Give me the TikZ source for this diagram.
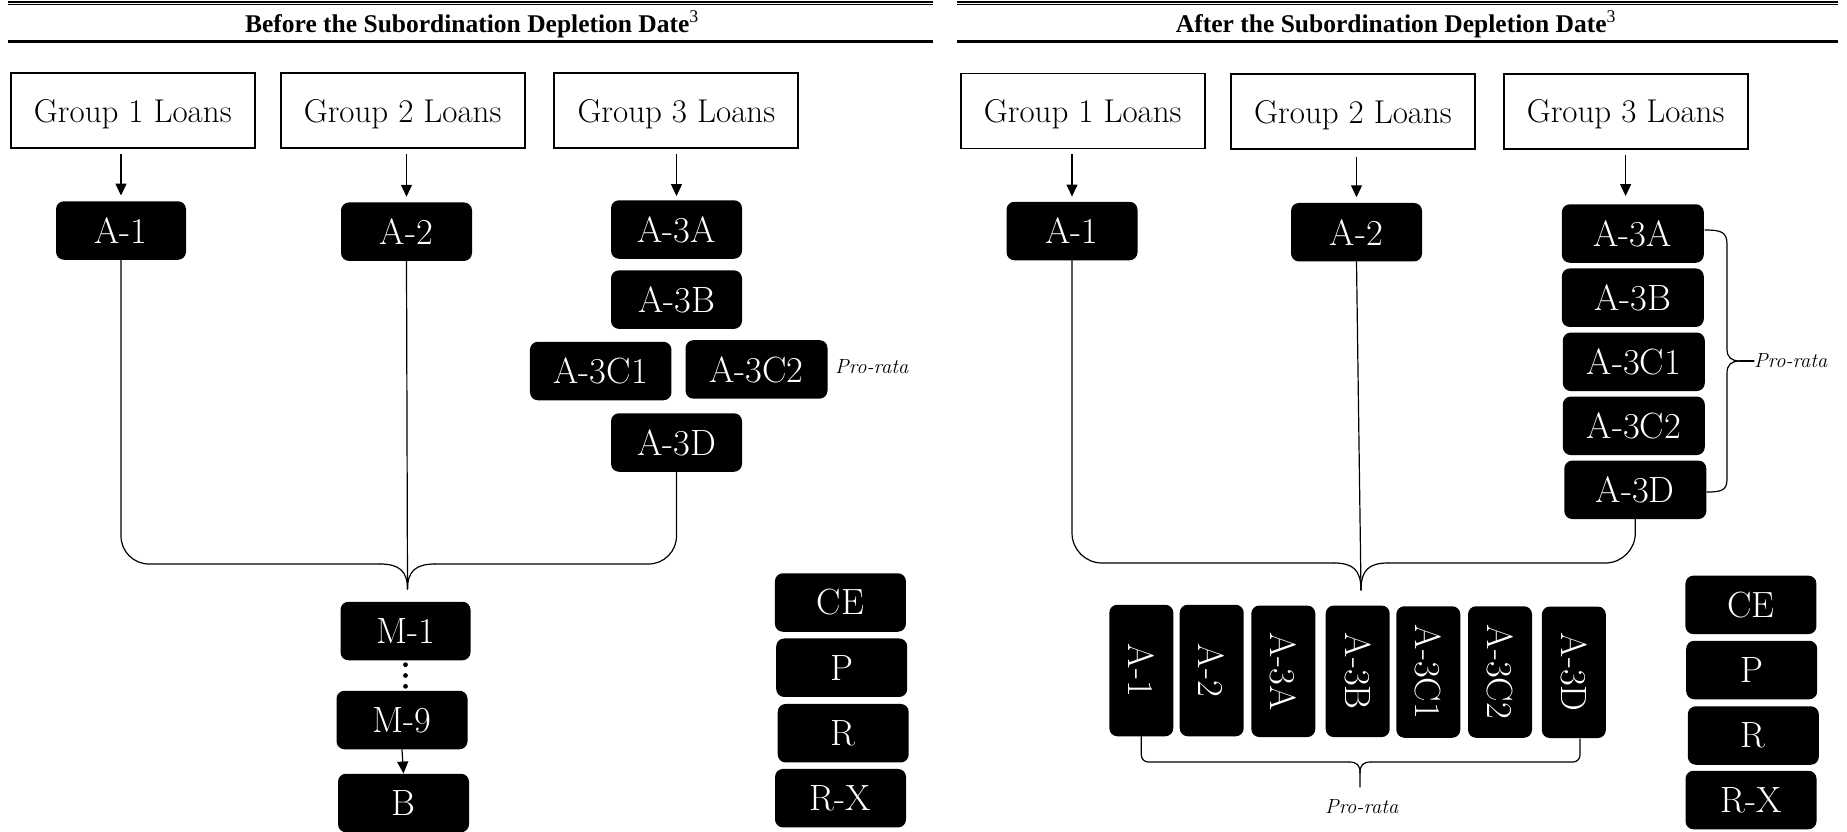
\documentclass[tikz,border=0pt]{standalone}
\usepackage{fontspec}
\newfontfamily\headfont{Liberation Serif}
\usetikzlibrary{arrows.meta,calc}
\begin{document}
\begin{tikzpicture}[x=1pt,y=-1pt,
  grp/.style={draw, line width=1.8pt, minimum width=244pt, minimum height=75pt,
    inner sep=0pt, text depth=0pt, font=\fontsize{33}{38}\selectfont},
  blk/.style={fill=black, text=white, rounded corners=8pt, inner sep=0pt,
    minimum width=131pt, minimum height=58.5pt, font=\fontsize{36.5}{42}\selectfont},
  vblk/.style={blk, minimum width=64pt, minimum height=131.5pt},
  conn/.style={line width=1.2pt, line cap=round},
  arr/.style={line width=1.2pt, -{Triangle[width=11pt,length=12pt]}},
  prorata/.style={font=\fontsize{20.5}{24}\selectfont\itshape, inner sep=0pt},
  ttl/.style={font=\headfont\bfseries\fontsize{25.5}{30}\selectfont, inner sep=0pt, anchor=base}]
\useasboundingbox (0,0) rectangle (1847,831);

% ---------- header rules and titles ----------
\foreach \xa/\xb in {8/933, 957/1838}{
  \draw[line width=2pt] (\xa,1.5) -- (\xb,1.5);
  \draw[line width=0.9pt] (\xa,4.6) -- (\xb,4.6);
  \draw[line width=2.4pt] (\xa,41.5) -- (\xb,41.5);
}
\node[ttl] (tleft) at (472,32) {Before the Subordination Depletion Date\textsuperscript{\mdseries 3}};
\node[ttl] (tright) at (1396,32) {After the Subordination Depletion Date\textsuperscript{\mdseries 3}};

% ---------- left panel: before the depletion date ----------
\node[grp] (lg1) at (132.8,110.7) {Group 1 Loans};
\node[grp] (lg2) at (402.6,110.7) {Group 2 Loans};
\node[grp] (lg3) at (676.3,110.7) {Group 3 Loans};

\node[blk, minimum width=130pt] (la1) at (121,230.5) {A-1};
\node[blk] (la2) at (406.5,231.7) {A-2};
\node[blk] (la3a) at (676.5,229.5) {A-3A};
\node[blk] (la3b) at (676.5,299.6) {A-3B};
\node[blk, minimum width=141.5pt] (la3c1) at (600.7,371) {A-3C1};
\node[blk, minimum width=142pt] (la3c2) at (756.5,369.4) {A-3C2};
\node[blk] (la3d) at (676.5,442.5) {A-3D};
\node[prorata, anchor=west] (lpr) at (835,367) {Pro-rata};

\node[blk, minimum width=130pt] (lm1) at (405.5,631) {M-1};
\node[blk] (lm9) at (402,720) {M-9};
\node[blk] (lb) at (403.5,803) {B};

\node[blk] (lce) at (840.4,602.5) {CE};
\node[blk] (lp) at (841.7,667.7) {P};
\node[blk] (lr) at (843.2,733.2) {R};
\node[blk] (lrx) at (840.5,798.2) {R-X};

\draw[arr, shorten <=5pt, shorten >=5.5pt] (la1.north |- lg1.south) -- (la1.north);
\draw[arr, shorten <=5pt, shorten >=5.5pt] (la2.north |- lg2.south) -- (la2.north);
\draw[arr, shorten <=5pt, shorten >=4pt] (la3a.north |- lg3.south) -- (la3a.north);

% merging brace into the mezzanine classes
\coordinate (lh) at (0,564);
\coordinate (ltip) at (407.5,589);
\coordinate (lcl) at (380,564);
\coordinate (lcr) at (435,564);
\draw[conn, rounded corners=28pt] (la1.south) -- (la1.south |- lh) -- (lcl);
\draw[conn] (lcl) .. controls (399,564) and (407.5,571) .. (ltip);
\draw[conn] (ltip) .. controls (407.5,571) and (416,564) .. (lcr);
\draw[conn, rounded corners=28pt] (lcr) -- (la3d.south |- lh) -- (la3d.south);
\draw[conn] (la2.south) -- (ltip);

% M-1 ... M-9
\foreach \t in {0.14,0.5,0.86}
  \fill ($(lm1.south)!\t!(lm1.south |- lm9.north)$) circle (2.4pt);
\draw[arr] (lm9.south) -- (lb.north);

% ---------- right panel: after the depletion date ----------
\node[grp] (rg1) at (1082.7,111) {Group 1 Loans};
\node[grp] (rg2) at (1353,111.5) {Group 2 Loans};
\node[grp] (rg3) at (1625.6,111.4) {Group 3 Loans};

\node[blk] (ra1) at (1072,231) {A-1};
\node[blk] (ra2) at (1356.5,232.2) {A-2};
\node[blk, minimum width=142pt] (ra3a) at (1632.8,233.5) {A-3A};
\node[blk, minimum width=142pt] (ra3b) at (1632.8,297.7) {A-3B};
\node[blk, minimum width=142pt] (ra3c1) at (1633.8,361.8) {A-3C1};
\node[blk, minimum width=142pt] (ra3c2) at (1633.8,425.8) {A-3C2};
\node[blk, minimum width=142pt] (ra3d) at (1635.3,489.8) {A-3D};

\draw[arr, shorten <=5pt, shorten >=5pt] (ra1.north |- rg1.south) -- (ra1.north);
\draw[arr, shorten <=7pt, shorten >=5.5pt] (ra2.north |- rg2.south) -- (ra2.north);
\draw[arr, shorten <=5pt, shorten >=8pt] (rg3.south) -- (rg3.south |- ra3a.north);

% pro-rata brace beside the class A-3 stack
\coordinate (rst) at (1705,230);
\coordinate (rsb) at (1707,492);
\coordinate (rsp) at (1740,361);
\node[prorata, anchor=west] (rpr) at (1754,361) {Pro-rata};
\draw[conn] (rst) .. controls (1721,230) and (1727,232) .. (1727,244) -- (1727,349)
  .. controls (1727,357) and (1731,361) .. (rsp);
\draw[conn] (rsp) .. controls (1731,361) and (1727,365) .. (1727,373) -- (1727,479)
  .. controls (1727,490) and (1722,492) .. (rsb);
\draw[conn] (rsp) -- (rpr.west);

% merging brace into the senior classes
\coordinate (rh) at (0,563);
\coordinate (rtip) at (1361,590);
\coordinate (rcl) at (1334,563);
\coordinate (rcr) at (1388,563);
\draw[conn, rounded corners=30pt] (ra1.south) -- (ra1.south |- rh) -- (rcl);
\draw[conn] (rcl) .. controls (1353,563) and (1361,570) .. (rtip);
\draw[conn] (rtip) .. controls (1361,570) and (1369,563) .. (rcr);
\draw[conn, rounded corners=30pt] (rcr) -- (ra3d.south |- rh) -- (ra3d.south);
\draw[conn] (ra2.south) -- (rtip);

% senior classes paid pro-rata
\node[vblk] (rb1) at (1141.3,670.5) {\rotatebox{-90}{A-1}};
\node[vblk] (rb2) at (1211.7,670.5) {\rotatebox{-90}{A-2}};
\node[vblk] (rb3) at (1283.3,671.3) {\rotatebox{-90}{A-3A}};
\node[vblk] (rb4) at (1357.7,671.3) {\rotatebox{-90}{A-3B}};
\node[vblk] (rb5) at (1428.3,672) {\rotatebox{-90}{A-3C1}};
\node[vblk] (rb6) at (1500,672) {\rotatebox{-90}{A-3C2}};
\node[vblk] (rb7) at (1573.8,672.3) {\rotatebox{-90}{A-3D}};

\coordinate (bh) at (0,762);
\coordinate (btip) at (1360,787);
\coordinate (bcl) at (1349,762);
\coordinate (bcr) at (1371,762);
\coordinate (bre) at (1580,739);
\draw[conn, rounded corners=7pt] (rb1.south) -- (rb1.south |- bh) -- (bcl);
\draw[conn] (bcl) .. controls (1357,762) and (1360,765) .. (1360,773) -- (btip);
\draw[conn] (1360,773) .. controls (1360,765) and (1363,762) .. (bcr);
\draw[conn, rounded corners=7pt] (bcr) -- (bre |- bh) -- (bre);
\node[prorata] (bpr) at (1361.7,807) {Pro-rata};

\node[blk] (rce) at (1750.9,604.9) {CE};
\node[blk] (rp) at (1751.7,670) {P};
\node[blk] (rr) at (1753.3,735.5) {R};
\node[blk] (rrx) at (1751,800) {R-X};
\end{tikzpicture}
\end{document}
